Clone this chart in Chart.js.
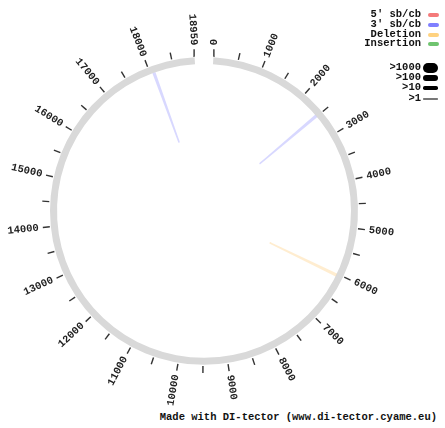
<!DOCTYPE html>
<html>
<head>
<meta charset="utf-8">
<script src="https://cdn.jsdelivr.net/npm/chart.js@4.4.1/dist/chart.umd.min.js"></script>
<style>
  html, body { margin:0; padding:0; background:#fff; }
  body { width:445px; height:428px; position:relative; overflow:hidden; font-family:"Liberation Mono", monospace; }
  #wrap { position:absolute; left:4px; top:11px; width:400px; height:400px; }
  #wrap canvas { position:absolute; left:0; top:0; }
  .lg { position:absolute; font:bold 10.5px "Liberation Mono", monospace; color:#111; white-space:pre; text-align:right; }
  .sw { position:absolute; }
  #foot { position:absolute; right:8px; top:411px; font:bold 10.5px "Liberation Mono", monospace; color:#111; white-space:pre; }
</style>
</head>
<body>
<div id="wrap">
  <canvas id="ring" width="400" height="400"></canvas>
  <canvas id="marks" width="400" height="400"></canvas>
</div>
<div id="legend"></div>
<div id="foot">Made with DI-tector (www.di-tector.cyame.eu)</div>
<script>
// ---------------- data ----------------
const genomeLength = 18959;
const majorTicks = [0,1000,2000,3000,4000,5000,6000,7000,8000,9000,10000,11000,12000,13000,14000,15000,16000,17000,18000,18959];
const tickLabels = ['0','1000','2000','3000','4000','5000','6000','7000','8000','9000','10000','11000','12000','13000','14000','15000','16000','17000','18000','18959'];
const minorTicks = [500,1500,2500,3500,4500,5500,6500,7500,8500,9500,10500,11500,12500,13500,14500,15500,16500,17500,18500];

const eventTypes   = ["3' sb/cb", "3' sb/cb", "Deletion"];
const eventBreak   = [18060, 2465, 6015];
const eventRejoin  = [18095, 2500, 6050];
const eventCounts  = [3, 3, 3];

const legendTypes  = ["5' sb/cb", "3' sb/cb", "Deletion", "Insertion"];
const legendColors = ["#f47a7a", "#7f7fff", "#ffd27f", "#6fc46f"];
const widthClasses = [">1000", ">100", ">10", ">1"];

// ---------------- geometry / style ----------------
const GAP_DEG = 3.5;
const R_OUT = 154, R_IN = 147, TICK_IN = 155, TICK_OUT = 162, R_LABEL = 166;
const typeColor = {"5' sb/cb":"rgba(240,100,100,0.3)", "3' sb/cb":"rgba(125,125,255,0.3)", "Deletion":"rgba(255,195,100,0.3)", "Insertion":"rgba(100,190,100,0.3)"};
function widthFor(c){ return c>1000?9:c>100?6:c>10?3:1.6; }

function angleOf(pos){ return (GAP_DEG + pos/genomeLength*(360-2*GAP_DEG))*Math.PI/180; }
function polar(pos, r){ const a = angleOf(pos); return {x: r*Math.sin(a), y: r*Math.cos(a)}; }

// ---------------- ring (doughnut) ----------------
new Chart(document.getElementById('ring'), {
  type: 'doughnut',
  data: { labels: ['genome'], datasets: [{ data: [genomeLength], backgroundColor: '#d9d9d9', borderWidth: 0, hoverOffset: 0, offset: 0 }] },
  options: {
    responsive: false, animation: false, events: [],
    rotation: GAP_DEG, circumference: 360 - 2*GAP_DEG,
    cutout: R_IN,
    layout: { padding: 200 - R_OUT },
    plugins: { legend: { display: false }, tooltip: { enabled: false } }
  }
});

// ---------------- ticks + events (scatter) ----------------
const datasets = [];
majorTicks.concat(minorTicks).forEach(v => {
  datasets.push({ data: [polar(v, TICK_IN), polar(v, TICK_OUT)], showLine: true, borderColor: '#333', borderWidth: 1.4, pointRadius: 0 });
});
eventTypes.forEach((t, i) => {
  const a = polar(eventBreak[i], R_IN), b = polar(eventRejoin[i], R_IN);
  // quadratic curve with control point at the centre: its midpoint is (a+b)/4
  const m = {x: (a.x + b.x)/4, y: (a.y + b.y)/4};
  datasets.push({ data: [a, m, b], showLine: true, borderColor: typeColor[t], borderWidth: widthFor(eventCounts[i]), pointRadius: 0, borderJoinStyle: 'round' });
});

const labelPlugin = {
  id: 'tickLabels',
  afterDatasetsDraw(chart){
    const ctx = chart.ctx, xs = chart.scales.x, ys = chart.scales.y;
    ctx.save();
    ctx.font = 'bold 10.5px "Liberation Mono", monospace';
    ctx.fillStyle = '#222';
    ctx.textBaseline = 'middle';
    majorTicks.forEach((v, i) => {
      const p = polar(v, R_LABEL), a = angleOf(v);
      ctx.save();
      ctx.translate(xs.getPixelForValue(p.x), ys.getPixelForValue(p.y));
      if (a <= Math.PI) { ctx.rotate(a - Math.PI/2); ctx.textAlign = 'left'; }
      else { ctx.rotate(a + Math.PI/2); ctx.textAlign = 'right'; }
      ctx.fillText(tickLabels[i], 0, 0);
      ctx.restore();
    });
    ctx.restore();
  }
};

new Chart(document.getElementById('marks'), {
  type: 'scatter',
  data: { datasets },
  options: {
    responsive: false, animation: false, events: [],
    layout: { padding: 0 },
    scales: {
      x: { type: 'linear', min: -200, max: 200, display: false },
      y: { type: 'linear', min: -200, max: 200, display: false }
    },
    plugins: { legend: { display: false }, tooltip: { enabled: false } }
  },
  plugins: [labelPlugin]
});

// ---------------- legend (HTML) ----------------
const lg = document.getElementById('legend');
const typeY = [15, 25, 35, 44];
legendTypes.forEach((t, i) => {
  const d = document.createElement('div'); d.className = 'lg'; d.textContent = t;
  d.style.right = (445 - 421) + 'px'; d.style.top = (typeY[i] - 7) + 'px'; lg.appendChild(d);
  const s = document.createElement('div'); s.className = 'sw';
  Object.assign(s.style, { left: '428px', top: (typeY[i] - 2) + 'px', width: '11px', height: '4px', borderRadius: '2px', background: legendColors[i] });
  lg.appendChild(s);
});
const widthY = [68, 78, 88, 99];
const widthH = [10, 6, 3.5, 1.5];
widthClasses.forEach((t, i) => {
  const d = document.createElement('div'); d.className = 'lg'; d.textContent = t;
  d.style.right = (445 - 421) + 'px'; d.style.top = (widthY[i] - 7) + 'px'; lg.appendChild(d);
  const s = document.createElement('div'); s.className = 'sw';
  Object.assign(s.style, { left: '423px', top: (widthY[i] - widthH[i]/2) + 'px', width: '15px', height: widthH[i] + 'px', borderRadius: (widthH[i]/2) + 'px', background: i === 3 ? '#777' : '#000' });
  lg.appendChild(s);
});
</script>
</body>
</html>
